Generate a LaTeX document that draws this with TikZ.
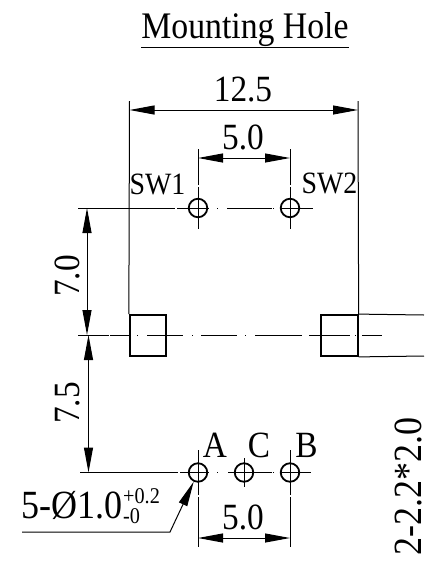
\documentclass[tikz,border=0pt]{standalone}
\usepackage{fontspec}
\setmainfont[FakeStretch=0.9]{Liberation Serif}
\usetikzlibrary{arrows.meta}
\tikzset{
	hole/.style={draw, circle, line width=1.8pt, minimum size=18.5pt, inner sep=0pt},
	pad/.style={draw, rectangle, line width=1.8pt, minimum width=36.5pt, minimum height=41pt, inner sep=0pt},
	txt/.style={inner sep=0pt, anchor=base, font=\fontsize{37}{37}\selectfont},
	sw/.style={inner sep=0pt, anchor=base, font=\fontsize{31}{31}\selectfont},
	tol/.style={inner sep=0pt, anchor=base, font=\fontsize{22.5}{22.5}\selectfont},
	dim/.style={{Triangle[length=25pt,width=9pt]}-{Triangle[length=25pt,width=9pt]}, line width=1pt},
	thin line/.style={line width=1pt}
}
\begin{document}
\begin{tikzpicture}[x=1pt, y=-1pt]
	\useasboundingbox (0,0) rectangle (424,563);
	\node[txt, font=\fontsize{37.5}{37.5}\selectfont] (T)at(245, 38) {\underline{Mounting Hole}};

	% holes
	\node[hole] (SW1)at(198, 208) {};
	\node[hole] (SW2)at(290, 208) {};
	\node[hole] (A)at(198, 472.5) {};
	\node[hole] (C)at(244, 472.5) {};
	\node[hole] (B)at(290, 472.5) {};
	\node[pad] (P1)at(148, 335.5) {};
	\node[pad] (P2)at(339.5, 335.5) {};

	% free ends of the dimension lines
	\coordinate (L0)at(129.5, 101);
	\coordinate (R0)at(358, 101);
	\coordinate (L1)at(129.5, 110);
	\coordinate (R1)at(358, 110);
	\coordinate (S3)at(198, 158);
	\coordinate (S4)at(290, 158);
	\coordinate (V1)at(87, 208);
	\coordinate (V2)at(87, 335);
	\coordinate (V3)at(88.5, 335);
	\coordinate (V4)at(88.5, 472.5);
	\coordinate (A2)at(198, 538);
	\coordinate (B2)at(290, 538);
	\coordinate (Q1)at(170, 532);
	\coordinate (Q2)at(22, 532);

	% extension lines
	\draw[thin line] (L0) -- (P1.north west);
	\draw[thin line] (R0) -- (P2.north east);
	\draw[thin line] (P2.north east) -- (424, 315);
	\draw[thin line] (P2.south east) -- (424, 356);
	\foreach \x in {198, 290} {
		\draw[thin line] (\x, 149) -- (\x, 185);
		\draw[thin line] (\x, 187) -- (\x, 229);
		\draw[thin line] (\x, 450) -- (\x, 495);
		\draw[thin line] (\x, 497) -- (\x, 547);
	}
	\draw[thin line] (244, 458) -- (244, 487);

	% centre lines
	\foreach \a/\b in {78/175, 177/209, 217/218, 227/272, 273/274, 280/313}
		\draw[thin line] (\a, 208) -- (\b, 208);
	\foreach \a/\b in {78/109, 110/129, 137/138, 147/183, 192/193, 201/237, 245/246, 255/302, 309/350, 355/356, 362/382}
		\draw[thin line] (\a, 335) -- (\b, 335);
	\foreach \a/\b in {80/178, 180/209, 217/218, 228/272, 273/274, 280/311}
		\draw[thin line] (\a, 472.5) -- (\b, 472.5);

	% dimensions
	\draw[dim] (L1) -- (R1);
	\draw[dim] (S3) -- (S4);
	\draw[dim] (V1) -- (V2);
	\draw[dim] (V3) -- (V4);
	\draw[dim] (A2) -- (B2);
	\draw[thin line, {Triangle[length=25pt,width=9pt]}-] (A) -- (Q1) -- (Q2);

	% labels
	\node[txt] (D1)at(243, 101) {12.5};
	\node[txt] (D2)at(243, 149) {5.0};
	\node[txt] (D3)at(243, 529) {5.0};
	\node[txt, rotate=90, anchor=base] (D4)at(79.5, 276) {7.0};
	\node[txt, rotate=90, anchor=base] (D5)at(79.5, 403) {7.5};
	\node[txt, rotate=90, anchor=base, font=\fontsize{40}{40}\selectfont] (D6)at(421.5, 486) {2-2.2*2.0};
	\node[sw] (LS1)at(157.5, 194) {SW1};
	\node[sw] (LS2)at(329.5, 193) {SW2};
	\node[txt] (LA)at(215, 457) {A};
	\node[txt] (LC)at(259, 457) {C};
	\node[txt] (LB)at(306.5, 457) {B};
	\node[txt, anchor=base west, font=\fontsize{40}{40}\selectfont] (H)at(21, 518) {5-Ø1.0};
	\node[tol, anchor=base west] (U)at(123, 503) {+0.2};
	\node[tol, anchor=base west] (W)at(123, 523) {-0};
\end{tikzpicture}
\end{document}
